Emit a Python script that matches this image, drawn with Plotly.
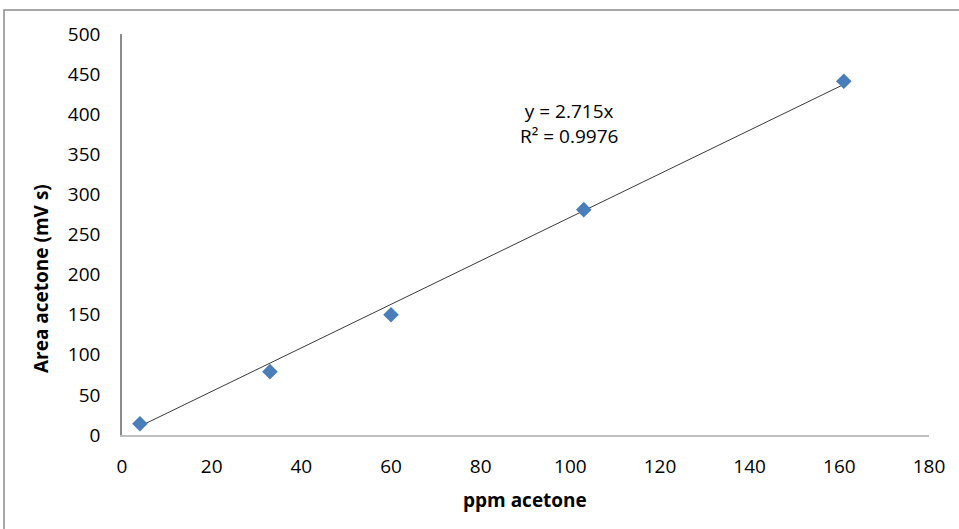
import plotly.graph_objects as go

ppm = [4, 33, 60, 103, 161]
area = [14, 79, 150, 281, 441]
slope = 2.715
x_ticks = [0, 20, 40, 60, 80, 100, 120, 140, 160, 180]
y_ticks = [0, 50, 100, 150, 200, 250, 300, 350, 400, 450, 500]

font_family = "Open Sans, Liberation Sans, sans-serif"

fig = go.Figure()

trend_x = [min(ppm), max(ppm)]
trend_y = [slope * v for v in trend_x]
fig.add_trace(go.Scatter(x=trend_x, y=trend_y, mode="lines",
                         line=dict(color="#3a3a3a", width=1), hoverinfo="skip"))
fig.add_trace(go.Scatter(x=ppm, y=area, mode="markers",
                         marker=dict(symbol="diamond", size=12, color="#4A7EBB",
                                     line=dict(width=0))))

fig.add_annotation(x=99.7, y=388.4, xref="x", yref="y",
                   text="y = 2.715x<br>R² = 0.9976", showarrow=False,
                   font=dict(family=font_family, size=19, color="#000000"),
                   align="center")

# axis titles (placed like the reference)
fig.add_annotation(x=(525 - 122) / 807, y=(435 - 500) / 401, xref="paper", yref="paper",
                   text="<b>ppm acetone</b>", showarrow=False,
                   font=dict(family=font_family, size=19, color="#000000"),
                   xanchor="center", yanchor="middle")
fig.add_annotation(x=(41 - 122) / 807, y=(435 - 279) / 401, xref="paper", yref="paper",
                   text="<b>Area acetone (mV s)</b>", showarrow=False, textangle=-90,
                   font=dict(family=font_family, size=19, color="#000000"),
                   xanchor="center", yanchor="middle")

fig.add_shape(type="rect", xref="paper", yref="paper",
              x0=-0.1462, x1=1.2, y0=-0.4, y1=1.0599,
              line=dict(color="#8c8c8c", width=1.5), fillcolor="rgba(0,0,0,0)",
              layer="below")

fig.update_layout(
    width=959, height=529,
    margin=dict(l=122, r=30, t=34, b=94),
    paper_bgcolor="white", plot_bgcolor="white",
    showlegend=False,
    font=dict(family=font_family, size=19, color="#000000"),
    xaxis=dict(range=[0, 180], tickvals=x_ticks, showgrid=False, zeroline=False,
               showline=True, linecolor="#bfbfbf", linewidth=1.5, ticks="",
               tickfont=dict(size=19), ticklabelstandoff=13),
    yaxis=dict(range=[0, 500], tickvals=y_ticks, showgrid=False, zeroline=False,
               showline=True, linecolor="#8c8c8c", linewidth=1.5, ticks="",
               tickfont=dict(size=19), ticklabelstandoff=16),
)

fig.write_html("out.html")
